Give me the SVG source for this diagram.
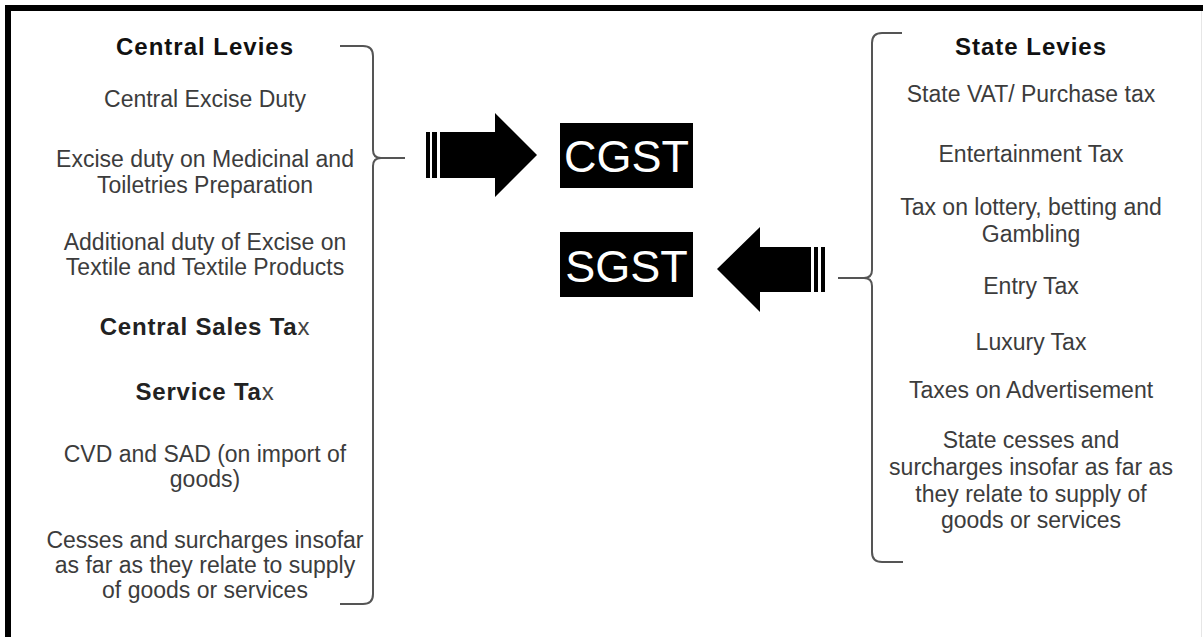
<svg xmlns="http://www.w3.org/2000/svg" width="1203" height="637" viewBox="0 0 1203 637">
<style>
.t{font-family:"Liberation Sans",Arial,sans-serif;font-size:23px;fill:#3c3c3c;text-anchor:middle}
.h{font-family:"Liberation Sans",Arial,sans-serif;font-size:24px;font-weight:bold;fill:#111;text-anchor:middle;letter-spacing:1px}
.s{font-family:"Liberation Sans",Arial,sans-serif;font-size:24px;font-weight:bold;fill:#222;text-anchor:middle;letter-spacing:0.8px}
.lx{font-weight:normal;fill:#444}
.br{fill:none;stroke:#555;stroke-width:2}
.box{fill:#000}
.bt{font-family:"Liberation Sans",Arial,sans-serif;font-size:45px;fill:#fff;text-anchor:middle}
</style>
<rect x="0" y="0" width="1203" height="637" fill="#fff"/>
<g id="frame">
<rect x="5" y="5" width="1198" height="6" fill="#000"/>
<rect x="5" y="5" width="6" height="632" fill="#000"/>
<line x1="1201.5" y1="11" x2="1201.5" y2="637" stroke="#e6e6e6" stroke-width="1"/>
</g>
<g id="central-levies">
<text class="h" x="205" y="55">Central Levies</text>
<text class="t" x="205" y="107">Central Excise Duty</text>
<text class="t" x="205" y="167">Excise duty on Medicinal and</text>
<text class="t" x="205" y="193">Toiletries Preparation</text>
<text class="t" x="205" y="250">Additional duty of Excise on</text>
<text class="t" x="205" y="275">Textile and Textile Products</text>
<text class="s" x="205" y="335">Central Sales Ta<tspan class="lx">x</tspan></text>
<text class="s" x="205" y="400">Service Ta<tspan class="lx">x</tspan></text>
<text class="t" x="205" y="462">CVD and SAD (on import of</text>
<text class="t" x="205" y="487">goods)</text>
<text class="t" x="205" y="548">Cesses and surcharges insofar</text>
<text class="t" x="205" y="573">as far as they relate to supply</text>
<text class="t" x="205" y="598">of goods or services</text>
</g>
<g id="state-levies">
<text class="h" x="1031" y="55">State Levies</text>
<text class="t" x="1031" y="102">State VAT/ Purchase tax</text>
<text class="t" x="1031" y="162">Entertainment Tax</text>
<text class="t" x="1031" y="215">Tax on lottery, betting and</text>
<text class="t" x="1031" y="242">Gambling</text>
<text class="t" x="1031" y="294">Entry Tax</text>
<text class="t" x="1031" y="350">Luxury Tax</text>
<text class="t" x="1031" y="398">Taxes on Advertisement</text>
<text class="t" x="1031" y="448">State cesses and</text>
<text class="t" x="1031" y="475">surcharges insofar as far as</text>
<text class="t" x="1031" y="502">they relate to supply of</text>
<text class="t" x="1031" y="528">goods or services</text>
</g>
<g id="cgst">
<rect class="box" x="560" y="123" width="133" height="65"/>
<text class="bt" x="626.5" y="172">CGST</text>
</g>
<g id="sgst">
<rect class="box" x="560" y="232" width="133" height="65"/>
<text class="bt" x="626.5" y="282">SGST</text>
</g>
<g id="connectors">
<path class="br" d="M340,46 H363 Q373,46 373,56 V150 Q373,158 381,158 Q373,158 373,166 V594 Q373,604 363,604 H340"/>
<path class="br" d="M381,158 H405"/>
<path class="br" d="M902,33 H882 Q872,33 872,43 V270 Q872,278 864,278 Q872,278 872,286 V552 Q872,562 882,562 H903"/>
<path class="br" d="M864,278 H838"/>
<g id="arrow-cgst" fill="#000">
<rect x="426" y="132" width="4" height="46"/>
<rect x="432" y="132" width="5" height="46"/>
<path d="M440,132 H495 V113 L537,155 L495,197 V178 H440 Z"/>
</g>
<g id="arrow-sgst" fill="#000">
<rect x="821" y="247" width="4" height="45"/>
<rect x="814" y="247" width="4" height="45"/>
<path d="M811,247 H760 V227 L717,269 L760,312 V292 H811 Z"/>
</g>
</g>
</svg>
